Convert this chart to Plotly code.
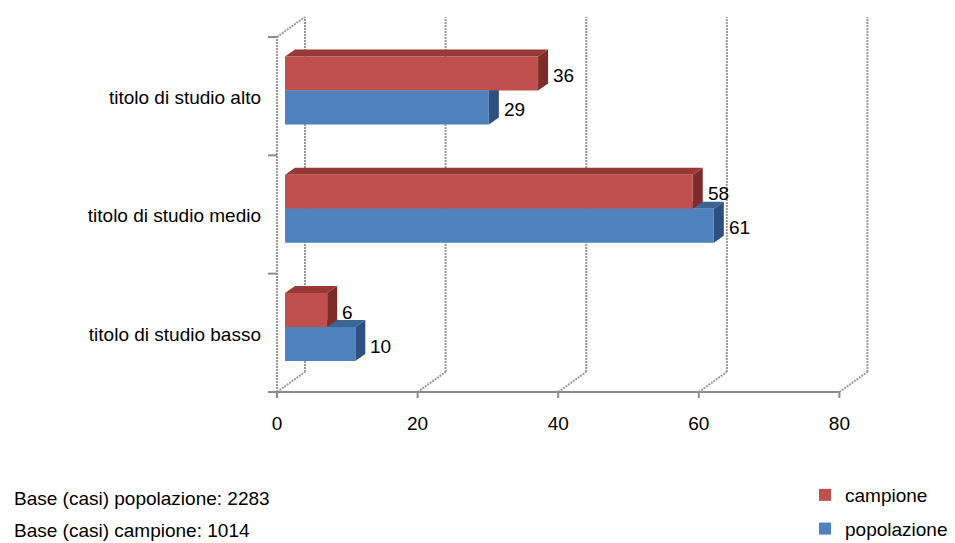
import plotly.graph_objects as go

# --- data -------------------------------------------------------------
categories = ["titolo di studio basso", "titolo di studio medio", "titolo di studio alto"]
campione = [6, 58, 36]
popolazione = [10, 61, 29]
x_ticks = [0, 20, 40, 60, 80]
notes = ["Base (casi) popolazione: 2283", "Base (casi) campione: 1014"]

# --- geometry (pixels) ------------------------------------------------
FIG_W, FIG_H = 955, 543
PLOT_L, PLOT_R, PLOT_T, PLOT_B = 266, 872, 8, 400
X0_PX, SX = 285.0, 7.03      # bar plane: value 0 position and px per unit
YC_PX, SY = 327.1, 118.33    # bar plane: first category centre and px per category

FONT = "Liberation Sans, Arial, sans-serif"
FS = 19
RED, RED_TOP, RED_SIDE = "#C0504D", "#973936", "#7E2C2A"
BLUE, BLUE_TOP, BLUE_SIDE = "#4F81BD", "#3C6495", "#2E5080"


def ux(px):
    return px / SX


def uy(px):
    return px / SY


x_range = [(PLOT_L - X0_PX) / SX, (PLOT_R - X0_PX) / SX]
y_range = [(YC_PX - PLOT_B) / SY, (YC_PX - PLOT_T) / SY]

# depth offsets of the front edge, back wall and bar thickness
FX, FY = ux(-8), uy(-5.7)
BX, BY = ux(20), uy(14.3)
BDX, BDY = ux(10), uy(7)
BAR_W = uy(34)

GRID = dict(color="#999999", width=2, dash="2px,1px")
AXIS = dict(color="#8C8C8C", width=2)

shapes = []


def seg(x0, y0, x1, y1, line):
    shapes.append(dict(type="line", xref="x", yref="y", x0=x0, y0=y0,
                       x1=x1, y1=y1, line=line, layer="below"))


y_lo, y_hi = -0.5, len(categories) - 0.5
for t in x_ticks:
    seg(t + BX, y_lo + BY, t + BX, y_hi + BY, GRID)   # back wall gridline
    seg(t + FX, y_lo + FY, t + BX, y_lo + BY, GRID)   # floor gridline
seg(FX, y_lo + FY, FX, y_hi + FY, GRID)               # side wall edge
seg(FX, y_hi + FY, BX, y_hi + BY, GRID)               # side wall top

seg(FX - ux(9), y_lo + FY, x_ticks[-1] + FX, y_lo + FY, AXIS)
for t in x_ticks:
    seg(t + FX, y_lo + FY, t + FX, y_lo + FY - uy(6), AXIS)
for k in range(len(categories) + 1):
    seg(FX - ux(9), k - 0.5 + FY, FX, k - 0.5 + FY, AXIS)


def bar_faces(vals, offset, top_c, side_c):
    for i, v in enumerate(vals):
        lo = i + offset
        hi = lo + BAR_W
        top = (f"M0,{hi} L{v},{hi} L{v + BDX},{hi + BDY} "
               f"L{BDX},{hi + BDY} Z")
        side = (f"M{v},{lo} L{v},{hi} L{v + BDX},{hi + BDY} "
                f"L{v + BDX},{lo + BDY} Z")
        for p, c in ((top, top_c), (side, side_c)):
            shapes.append(dict(type="path", xref="x", yref="y", path=p,
                               fillcolor=c, line=dict(width=0), layer="below"))


bar_faces(popolazione, -BAR_W, BLUE_TOP, BLUE_SIDE)
bar_faces(campione, 0, RED_TOP, RED_SIDE)

pos = list(range(len(categories)))

fig = go.Figure()
fig.add_trace(go.Bar(name="campione", y=pos, x=campione, orientation="h",
                     width=BAR_W, offset=0, marker=dict(color=RED, line=dict(width=0)),
                     legendgroup="c", hoverinfo="skip"))
fig.add_trace(go.Bar(name="popolazione", y=pos, x=popolazione, orientation="h",
                     width=BAR_W, offset=-BAR_W, marker=dict(color=BLUE, line=dict(width=0)),
                     legendgroup="p", hoverinfo="skip"))

annotations = []
for vals, off in ((campione, 0), (popolazione, -BAR_W)):
    for i, v in enumerate(vals):
        annotations.append(dict(x=v, y=i + off + BAR_W / 2, xref="x", yref="y",
                                text=str(v), showarrow=False, xanchor="left",
                                yanchor="middle", xshift=13, yshift=-2,
                                font=dict(family=FONT, size=FS, color="#000")))

pw, ph = PLOT_R - PLOT_L, PLOT_B - PLOT_T
for note, py in zip(notes, (499, 530)):
    annotations.append(dict(x=(12 - PLOT_L) / pw, y=(PLOT_B - py) / ph,
                            xref="paper", yref="paper", text=note, showarrow=False,
                            xanchor="left", yanchor="middle",
                            font=dict(family=FONT, size=FS, color="#000")))

fig.update_layout(
    width=FIG_W, height=FIG_H,
    margin=dict(l=PLOT_L, r=FIG_W - PLOT_R, t=PLOT_T, b=FIG_H - PLOT_B, pad=0,
                autoexpand=False),
    paper_bgcolor="white", plot_bgcolor="white",
    barmode="overlay",
    font=dict(family=FONT, size=FS, color="#000"),
    shapes=shapes, annotations=annotations,
    xaxis=dict(range=x_range, tickvals=x_ticks, showgrid=False, zeroline=False,
               showline=False, ticks="", ticklabelshift=-8, ticklabelstandoff=10,
               fixedrange=True, automargin=False),
    yaxis=dict(range=y_range, tickvals=pos, ticktext=categories, showgrid=False,
               zeroline=False, showline=False, ticks="", ticklabelshift=7,
               ticklabelstandoff=4, fixedrange=True, automargin=False),
    legend=dict(xref="container", yref="container", x=805 / FIG_W, y=1 - 476 / FIG_H,
                xanchor="left", yanchor="top", traceorder="grouped",
                tracegroupgap=6, bgcolor="rgba(0,0,0,0)",
                font=dict(family=FONT, size=FS, color="#000")),
    showlegend=True,
)

fig.write_html("out.html")
